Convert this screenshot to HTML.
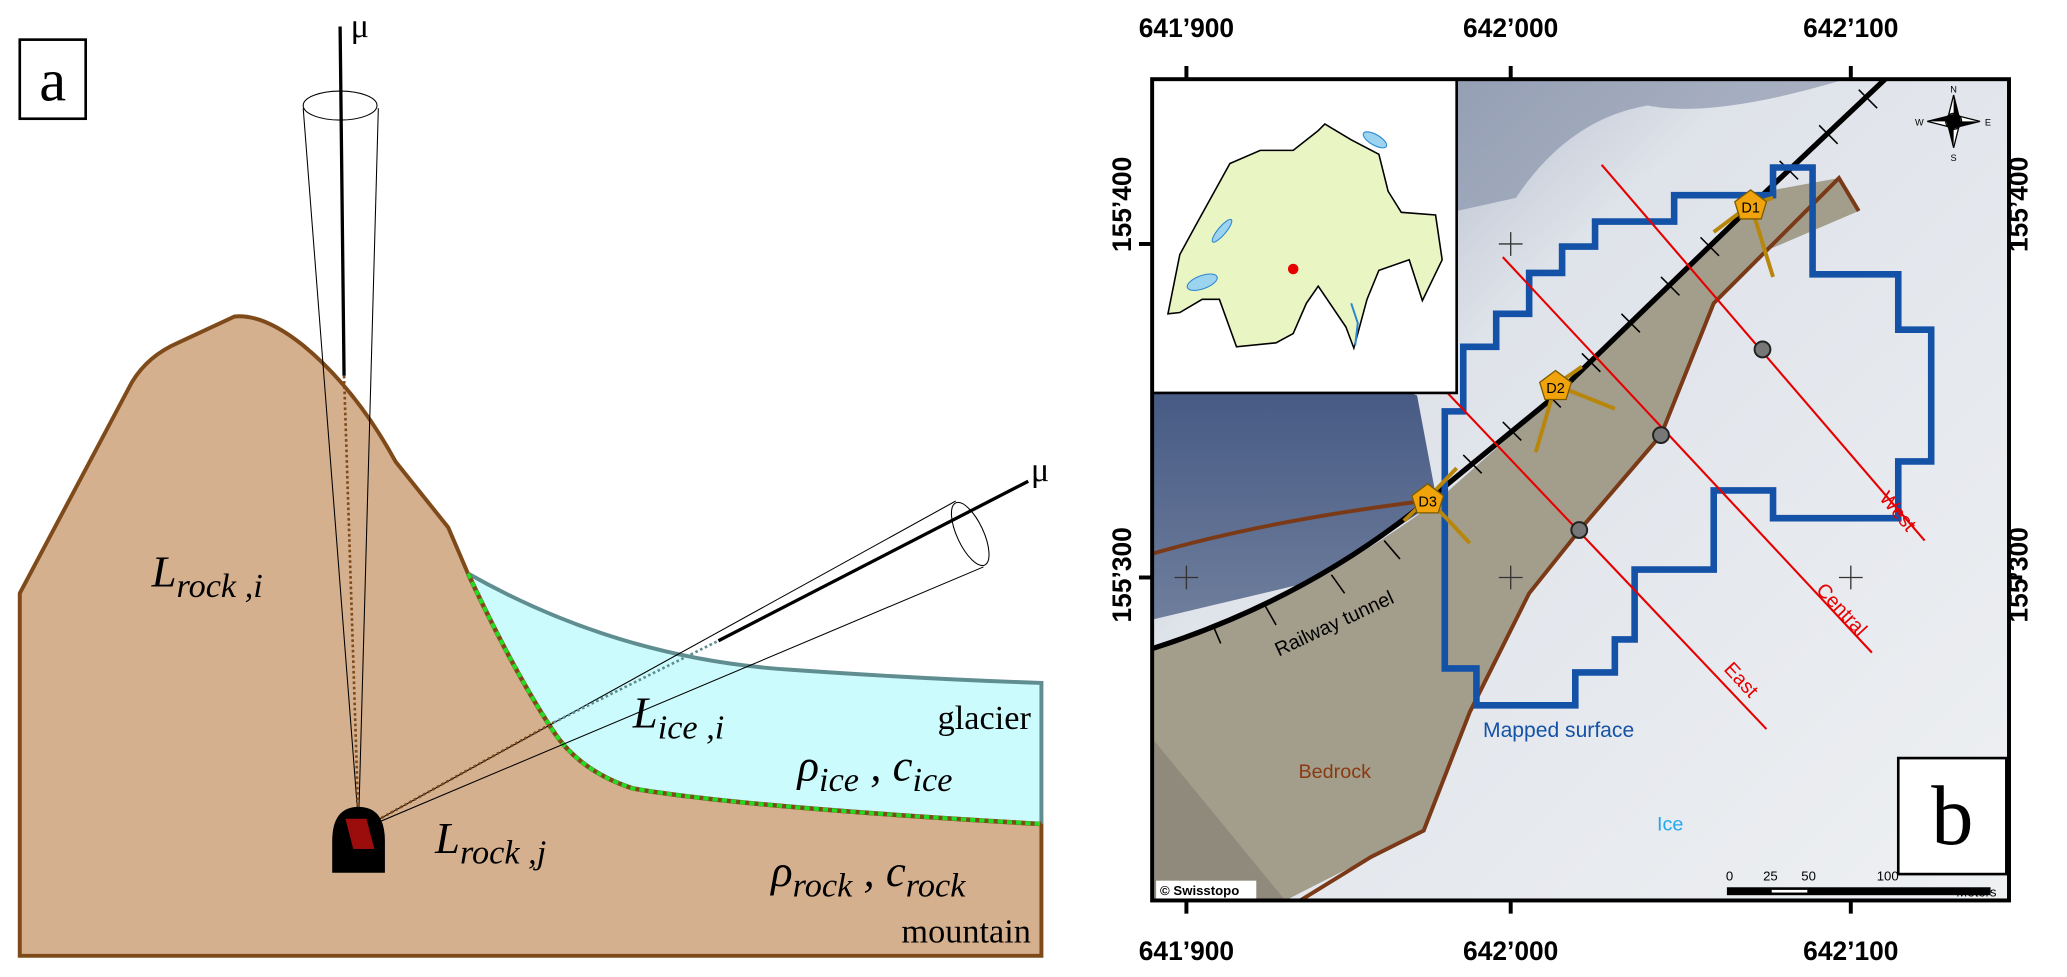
<!DOCTYPE html>
<html><head><meta charset="utf-8"><style>
html,body{margin:0;padding:0;background:#fff;}
svg{display:block;}
.sr{font-family:"Liberation Serif",serif;}
.ss{font-family:"Liberation Sans",sans-serif;}
</style></head><body>
<svg width="2067" height="977" viewBox="0 0 1568 741" xmlns="http://www.w3.org/2000/svg">
<defs>
<linearGradient id="snow" x1="0" y1="0" x2="1" y2="1">
<stop offset="0" stop-color="#8e9ab0"/><stop offset="0.35" stop-color="#dfe3ea"/><stop offset="1" stop-color="#eef0f2"/>
</linearGradient>
<linearGradient id="lake" x1="0" y1="0" x2="0" y2="1">
<stop offset="0" stop-color="#3f5480"/><stop offset="1" stop-color="#6f7e9c"/>
</linearGradient>
</defs>
<!-- ===== Panel a ===== -->
<rect x="15" y="30" width="50" height="60" fill="#fff" stroke="#000" stroke-width="2"/>
<text x="40" y="76" class="sr" font-size="46" text-anchor="middle">a</text>
<path d="M15,450 L100,290 Q112,270 135,260 L178,240 Q200,238 230,262 Q270,295 300,350 L340,400 L355,435 Q390,510 420,555 Q440,585 480,598 Q560,612 790,625 L790,725 L15,725 Z" fill="#d5b08f" stroke="#7f4a1a" stroke-width="3"/>
<path d="M355,435 Q470,500 600,508 Q700,515 790,518 L790,625 Q560,612 480,598 Q440,585 420,555 Q390,510 355,435 Z" fill="#ccfbfd"/>
<path d="M355,435 Q470,500 600,508 Q700,515 790,518 L790,625" fill="none" stroke="#5f8d90" stroke-width="3"/>
<path d="M355,435 Q390,510 420,555 Q440,585 480,598 Q560,612 790,625" fill="none" stroke="#7f4a1a" stroke-width="3.5"/>
<path d="M355,435 Q390,510 420,555 Q440,585 480,598 Q560,612 790,625" fill="none" stroke="#22dd22" stroke-width="3" stroke-dasharray="4,3"/>
<line x1="272" y1="625" x2="230" y2="82" stroke="#000" stroke-width="0.8"/>
<line x1="272" y1="625" x2="287" y2="82" stroke="#000" stroke-width="0.8"/>
<ellipse cx="258" cy="80" rx="28" ry="11" fill="none" stroke="#000" stroke-width="0.8"/>
<line x1="258" y1="20" x2="261" y2="285" stroke="#000" stroke-width="2.5"/>
<line x1="261" y1="285" x2="272" y2="625" stroke="#7f4a1a" stroke-width="2" stroke-dasharray="2,2"/>
<text x="266" y="28" class="sr" font-size="26">μ</text>
<line x1="272" y1="630" x2="725" y2="380" stroke="#000" stroke-width="0.8"/>
<line x1="272" y1="630" x2="746" y2="430" stroke="#000" stroke-width="0.8"/>
<ellipse cx="736" cy="405" rx="10" ry="26" transform="rotate(-25 736 405)" fill="none" stroke="#000" stroke-width="0.8"/>
<line x1="545" y1="486" x2="780" y2="365" stroke="#000" stroke-width="2.5"/>
<line x1="272" y1="630" x2="420" y2="548" stroke="#7f4a1a" stroke-width="2" stroke-dasharray="2,2"/>
<line x1="420" y1="548" x2="545" y2="486" stroke="#5f8d90" stroke-width="2" stroke-dasharray="2,2"/>
<text x="782" y="365" class="sr" font-size="26">μ</text>
<path d="M252,662 L252,638 Q252,612 272,612 Q292,612 292,638 L292,662 Z" fill="#000"/>
<path d="M262,621 L278,621 L284,644 L268,644 Z" fill="#9b0d0d"/>
<g class="sr" font-style="italic">
<text x="115" y="445" font-size="34">L<tspan font-size="26" dy="8">rock ,i</tspan></text>
<text x="480" y="552" font-size="34">L<tspan font-size="26" dy="8">ice ,i</tspan></text>
<text x="330" y="647" font-size="34">L<tspan font-size="26" dy="8">rock ,j</tspan></text>
<text x="605" y="592" font-size="34">ρ<tspan font-size="26" dy="8">ice</tspan><tspan dy="-8"> , c</tspan><tspan font-size="26" dy="8">ice</tspan></text>
<text x="585" y="672" font-size="34">ρ<tspan font-size="26" dy="8">rock</tspan><tspan dy="-8"> , c</tspan><tspan font-size="26" dy="8">rock</tspan></text>
</g>
<text x="782" y="553" class="sr" font-size="26" text-anchor="end">glacier</text>
<text x="782" y="715" class="sr" font-size="26" text-anchor="end">mountain</text>

<!-- ===== Panel b ===== -->
<g class="ss" font-weight="bold" font-size="20" text-anchor="middle">
<text x="900" y="28">641’900</text><text x="1146" y="28">642’000</text><text x="1404" y="28">642’100</text>
<text x="900" y="728">641’900</text><text x="1146" y="728">642’000</text><text x="1404" y="728">642’100</text>
<text transform="translate(858,155) rotate(-90)">155’400</text>
<text transform="translate(858,436) rotate(-90)">155’300</text>
<text transform="translate(1538,155) rotate(-90)">155’400</text>
<text transform="translate(1538,436) rotate(-90)">155’300</text>
</g>
<g stroke="#000" stroke-width="3">
<line x1="900" y1="50" x2="900" y2="60"/><line x1="1146" y1="50" x2="1146" y2="60"/><line x1="1404" y1="50" x2="1404" y2="60"/>
<line x1="900" y1="683" x2="900" y2="693"/><line x1="1146" y1="683" x2="1146" y2="693"/><line x1="1404" y1="683" x2="1404" y2="693"/>
<line x1="864" y1="185" x2="874" y2="185"/><line x1="864" y1="438" x2="874" y2="438"/>
<line x1="1524" y1="185" x2="1534" y2="185"/><line x1="1524" y1="438" x2="1534" y2="438"/>
</g>
<svg x="874" y="60" width="650" height="623" viewBox="874 60 650 623">
<rect x="874" y="60" width="650" height="623" fill="url(#snow)"/>
<path d="M1105,60 L1400,60 Q1300,90 1250,80 Q1190,90 1150,150 L1105,160 Z" fill="#7f8ba4" opacity="0.6"/>
<path d="M874,280 Q900,270 940,290 L980,270 Q1010,260 1040,285 L1075,300 L1090,380 L1000,440 L874,470 Z" fill="url(#lake)"/>
<path d="M1090,380 L1180,300 L1340,145 L1395,135 L1410,160 L1340,190 L1300,230 L1260,330 L1200,400 L1160,450 L1115,540 L1080,630 L1040,650 L975,683 L874,683 L874,492 Q990,455 1090,380 Z" fill="#a39d8c"/>
<path d="M874,560 L975,683 L874,683 Z" fill="#8f8a7c"/>
<path d="M874,420 Q960,395 1080,380" fill="none" stroke="#7a3a18" stroke-width="3"/>
<path d="M1410,160 L1395,135 L1340,190 L1300,230 L1260,330 L1200,400 L1160,450 L1115,540 L1080,630 L1040,650 L975,690" fill="none" stroke="#7a3a18" stroke-width="3"/>
<g stroke="#333" stroke-width="1">
<path d="M1137,185h18M1146,176v18M1137,438h18M1146,429v18M1395,438h18M1404,429v18M891,438h18M900,429v18"/>
</g>
<path d="M874,492 Q990,455 1080,382 L1180,300 L1340,145 L1430,60" fill="none" stroke="#000" stroke-width="4"/>
<g stroke="#000" stroke-width="1.2">
<path d="M1110,345l14,14M1140,320l14,14M1170,295l14,14M1200,268l14,14M1230,238l14,14M1260,210l14,14M1290,180l14,14M1320,150l14,14M1350,122l14,14M1380,95l14,14M1410,68l14,14M1050,410l12,14M1010,436l10,14M960,460l8,14M920,474l6,14"/>
</g>
<path d="M1096,312 H1110 V263 H1135 V238 H1160 V207 H1185 V187 H1210 V168 H1270 V148 H1345 V127 H1375 V208 H1440 V250 H1465 V350 H1440 V393 H1345 V372 H1300 V432 H1240 V485 H1225 V510 H1195 V535 H1120 V507 H1096 Z" fill="none" stroke="#1452a8" stroke-width="5"/>
<g stroke="#e60000" stroke-width="1.6">
<line x1="1215" y1="125" x2="1460" y2="410"/>
<line x1="1140" y1="195" x2="1420" y2="495"/>
<line x1="1062" y1="260" x2="1340" y2="553"/>
</g>
<g class="ss" fill="#e60000" font-size="15">
<text transform="translate(1425,378) rotate(50)">West</text>
<text transform="translate(1377,448) rotate(47)">Central</text>
<text transform="translate(1307,508) rotate(47)">East</text>
</g>
<g fill="#777" stroke="#222" stroke-width="1.5">
<circle cx="1337" cy="265" r="6"/><circle cx="1260" cy="330" r="6"/><circle cx="1198" cy="402" r="6"/>
</g>
<g stroke="#b8860b" stroke-width="3" fill="none">
<path d="M1300,176 L1328,155 L1345,210 M1328,155 L1345,150"/>
<path d="M1165,343 L1180,292 L1225,310 M1180,292 L1200,278"/>
<path d="M1065,395 L1083,378 L1115,412 M1083,378 L1105,355"/>
</g>
<g fill="#f0a30a" stroke="#7a5a00" stroke-width="1">
<path d="M1328,144 l12,9 -4,13 h-16 l-4,-13 z"/>
<path d="M1180,281 l12,9 -4,13 h-16 l-4,-13 z"/>
<path d="M1083,367 l12,9 -4,13 h-16 l-4,-13 z"/>
</g>
<g class="ss" font-size="11" text-anchor="middle">
<text x="1328" y="161">D1</text><text x="1180" y="298">D2</text><text x="1083" y="384">D3</text>
</g>
<text transform="translate(970,498) rotate(-25)" class="ss" font-size="15" fill="#000">Railway tunnel</text>
<text x="1125" y="559" class="ss" font-size="16" fill="#1452a8">Mapped surface</text>
<text x="985" y="590" class="ss" font-size="15" fill="#8a3a10">Bedrock</text>
<text x="1257" y="630" class="ss" font-size="15" fill="#22a8ee">Ice</text>
<rect x="874" y="60" width="231" height="238" fill="#fff" stroke="#000" stroke-width="2"/>
<path d="M886,238 L895,193 L907,171 L933,124 L956,114 L981,114 L1000,99 L1005,94 L1025,106 L1046,117 L1053,145 L1063,161 L1089,163 L1094,197 L1079,228 L1069,197 L1046,205 L1037,227 L1027,264 L1021,248 L1000,217 L991,230 L981,253 L968,260 L938,263 L925,227 L912,227 L895,237 Z" fill="#eaf5c4" stroke="#000" stroke-width="1.2"/>
<ellipse cx="912" cy="214" rx="12" ry="5" transform="rotate(-20 912 214)" fill="#9cd4f0" stroke="#2a86d0" stroke-width="0.8"/>
<ellipse cx="927" cy="175" rx="3" ry="11" transform="rotate(40 927 175)" fill="#9cd4f0" stroke="#2a86d0" stroke-width="0.8"/>
<ellipse cx="1043" cy="106" rx="10" ry="4" transform="rotate(30 1043 106)" fill="#9cd4f0" stroke="#2a86d0" stroke-width="0.8"/>
<path d="M1025,230 L1030,245 L1028,262" fill="none" stroke="#2a86d0" stroke-width="1.5"/>
<circle cx="981" cy="204" r="4" fill="#e60000"/>
<rect x="877" y="668" width="76" height="14" fill="#fff"/>
<text x="880" y="679" class="ss" font-size="10" font-weight="bold">© Swisstopo</text>
<g class="ss" font-size="10" text-anchor="middle">
<text x="1312" y="668">0</text><text x="1343" y="668">25</text><text x="1372" y="668">50</text><text x="1432" y="668">100</text>
</g>
<rect x="1310" y="673" width="200" height="6" fill="#000"/>
<rect x="1344" y="675" width="27" height="2" fill="#fff"/>
<text x="1484" y="680" class="ss" font-size="10">Meters</text>
<rect x="1440" y="575" width="82" height="88" fill="#fff" stroke="#000" stroke-width="2"/>
<text x="1481" y="640" class="sr" font-size="64" text-anchor="middle">b</text>
<g transform="translate(1482,92)">
<path d="M0,-20 L5,0 L0,20 L-5,0 Z M-20,0 L0,-5 L20,0 L0,5 Z" fill="#fff" stroke="#000"/>
<path d="M0,-20 L5,0 L0,0 Z M0,20 L-5,0 L0,0 Z M-20,0 L0,-5 L0,0Z M20,0 L0,5 L0,0Z" fill="#000"/>
<circle r="6" fill="none" stroke="#000"/>
<g class="ss" font-size="7" text-anchor="middle"><text y="-22">N</text><text y="30">S</text><text x="-26" y="3">W</text><text x="26" y="3">E</text></g>
</g>
</svg>
<rect x="874" y="60" width="650" height="623" fill="none" stroke="#000" stroke-width="3"/>
</svg>
</body></html>
